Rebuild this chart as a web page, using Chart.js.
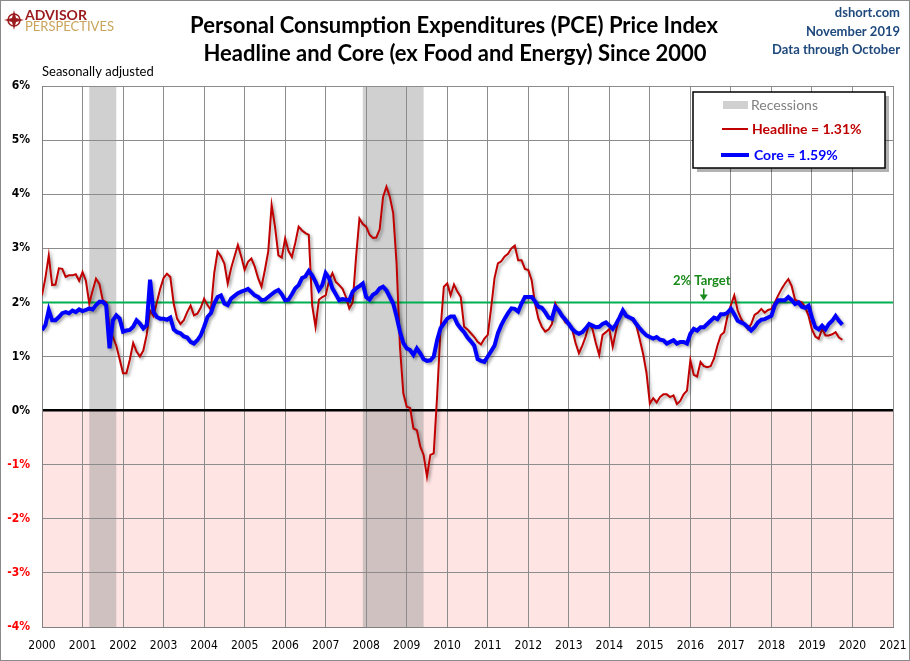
<!DOCTYPE html>
<html>
<head>
<meta charset="utf-8">
<script src="https://cdn.jsdelivr.net/npm/chart.js@4"></script>
<style>
  body { margin: 0; background: #fff; }
  canvas { display: block; }
</style>
</head>
<body>
<canvas id="pce" width="910" height="661"></canvas>
<script>
const startYear = 2000;
const xRange = [2000, 2021];
const yRange = [-4, 6];
const target = 2;
const recessionStarts = ['2001-03', '2007-12'];
const recessionEnds = ['2001-11', '2009-06'];

// PCE headline, year over year %, monthly from Jan 2000
const headline = [
  2.13, 2.45, 2.87, 2.32, 2.33, 2.63, 2.62, 2.47, 2.50, 2.50, 2.52, 2.40,
  2.56, 2.40, 1.98, 2.22, 2.44, 2.34, 2.04, 2.00, 1.55, 1.36, 1.20, 0.95,
  0.69, 0.69, 0.94, 1.25, 1.09, 1.00, 1.11, 1.40, 1.85, 1.75, 2.00, 2.25,
  2.45, 2.53, 2.47, 1.98, 1.70, 1.60, 1.67, 1.82, 1.94, 1.76, 1.79, 1.90,
  2.07, 1.95, 1.86, 2.54, 2.94, 2.85, 2.72, 2.35, 2.63, 2.85, 3.06, 2.85,
  2.60, 2.75, 2.81, 2.66, 2.45, 2.29, 2.60, 2.94, 3.80, 3.40, 2.87, 2.83,
  3.18, 2.95, 2.84, 3.10, 3.40, 3.33, 3.28, 3.25, 1.95, 1.55, 2.05, 2.10,
  2.13, 2.40, 2.54, 2.38, 2.32, 2.25, 2.10, 1.89, 2.00, 2.84, 3.55, 3.45,
  3.40, 3.25, 3.19, 3.20, 3.35, 3.95, 4.14, 3.95, 3.65, 2.72, 1.18, 0.32,
  0.07, 0.05, -0.33, -0.36, -0.66, -0.82, -1.22, -0.82, -0.79, 0.26, 1.49, 2.29,
  2.35, 2.13, 2.33, 2.20, 2.10, 1.55, 1.50, 1.43, 1.36, 1.27, 1.22, 1.33,
  1.40, 1.90, 2.45, 2.72, 2.76, 2.85, 2.90, 3.00, 3.05, 2.78, 2.78, 2.62,
  2.60, 2.41, 1.98, 1.70, 1.55, 1.46, 1.50, 1.60, 1.98, 1.85, 1.75, 1.63,
  1.60, 1.51, 1.25, 1.06, 1.20, 1.37, 1.60, 1.51, 1.25, 1.03, 1.40, 1.45,
  1.51, 1.18, 1.48, 1.74, 1.85, 1.75, 1.72, 1.66, 1.57, 1.32, 1.05, 0.70,
  0.13, 0.23, 0.15, 0.25, 0.30, 0.30, 0.25, 0.28, 0.12, 0.18, 0.30, 0.37,
  0.93, 0.66, 0.63, 0.90, 0.82, 0.80, 0.82, 0.96, 1.20, 1.39, 1.45, 1.75,
  1.95, 2.13, 1.85, 1.70, 1.60, 1.51, 1.60, 1.77, 1.81, 1.88, 1.81, 1.86,
  1.88, 2.00, 2.13, 2.25, 2.35, 2.43, 2.30, 2.05, 2.02, 2.00, 1.91, 1.75,
  1.50, 1.37, 1.33, 1.51, 1.39, 1.39, 1.41, 1.45, 1.35, 1.31
];

// PCE core (ex food and energy)
const core = [
  1.49, 1.58, 1.86, 1.67, 1.67, 1.73, 1.80, 1.82, 1.80, 1.85, 1.82, 1.87,
  1.84, 1.86, 1.89, 1.87, 1.95, 2.01, 2.01, 1.95, 1.15, 1.67, 1.76, 1.70,
  1.46, 1.48, 1.49, 1.55, 1.67, 1.61, 1.52, 1.58, 2.42, 1.82, 1.73, 1.70,
  1.70, 1.68, 1.72, 1.50, 1.45, 1.43, 1.37, 1.35, 1.27, 1.24, 1.30, 1.39,
  1.55, 1.73, 1.80, 1.98, 2.10, 2.13, 1.98, 1.95, 2.07, 2.12, 2.17, 2.20,
  2.22, 2.25, 2.19, 2.13, 2.10, 2.04, 2.05, 2.10, 2.15, 2.20, 2.23, 2.15,
  2.04, 2.05, 2.15, 2.26, 2.32, 2.45, 2.48, 2.58, 2.50, 2.38, 2.23, 2.32,
  2.54, 2.45, 2.26, 2.15, 2.04, 2.06, 2.05, 2.04, 2.20, 2.26, 2.30, 2.35,
  2.10, 2.05, 2.14, 2.18, 2.26, 2.29, 2.22, 2.10, 1.98, 1.74, 1.46, 1.25,
  1.15, 1.12, 1.03, 1.15, 1.06, 0.95, 0.92, 0.93, 1.00, 1.30, 1.52, 1.61,
  1.70, 1.74, 1.74, 1.60, 1.52, 1.45, 1.35, 1.28, 1.20, 0.95, 0.92, 0.90,
  1.00, 1.10, 1.20, 1.43, 1.58, 1.70, 1.80, 1.89, 1.88, 1.83, 1.98, 2.10,
  2.10, 2.10, 2.02, 1.92, 1.90, 1.82, 1.72, 1.70, 1.92, 1.85, 1.75, 1.68,
  1.60, 1.51, 1.45, 1.42, 1.45, 1.52, 1.60, 1.57, 1.54, 1.55, 1.60, 1.63,
  1.57, 1.51, 1.60, 1.72, 1.85, 1.75, 1.72, 1.69, 1.60, 1.52, 1.45, 1.39,
  1.36, 1.33, 1.36, 1.31, 1.30, 1.24, 1.27, 1.30, 1.24, 1.27, 1.27, 1.24,
  1.42, 1.51, 1.48, 1.54, 1.54, 1.60, 1.66, 1.72, 1.69, 1.78, 1.78, 1.81,
  1.88, 1.78, 1.66, 1.63, 1.60, 1.54, 1.48, 1.54, 1.63, 1.68, 1.69, 1.72,
  1.75, 1.95, 2.04, 2.04, 2.04, 2.10, 2.04, 1.97, 2.00, 1.92, 1.90, 1.94,
  1.72, 1.54, 1.50, 1.57, 1.50, 1.60, 1.66, 1.75, 1.66, 1.59
];

const FONT = "'Liberation Sans Narrow', 'DejaVu Sans Condensed', Lato, sans-serif";
const TITLE_FONT = "Lato, 'Open Sans', sans-serif";

function toYear(s) {
  const [yy, mm] = s.split('-').map(Number);
  return yy + (mm - 1) / 12;
}
function monthly(arr) {
  return arr.map((v, i) => ({ x: startYear + i / 12, y: v }));
}

const decor = {
  id: 'decor',
  beforeDraw(chart) {
    const { ctx, chartArea: a, scales: { x, y } } = chart;
    ctx.save();
    ctx.fillStyle = '#fff';
    ctx.fillRect(0, 0, chart.width, chart.height);
    const y0 = y.getPixelForValue(0);
    ctx.fillStyle = '#ffe4e4';
    ctx.fillRect(a.left, y0, a.right - a.left, a.bottom - y0);
    ctx.fillStyle = 'rgba(150,150,150,0.45)';
    recessionStarts.forEach((s, i) => {
      const x1 = x.getPixelForValue(toYear(s));
      const x2 = x.getPixelForValue(toYear(recessionEnds[i]));
      ctx.fillRect(x1, a.top, x2 - x1, a.bottom - a.top);
    });
    ctx.restore();
  },
  beforeDatasetsDraw(chart) {
    const { ctx, chartArea: a, scales: { y } } = chart;
    const yt = y.getPixelForValue(target);
    ctx.save();
    ctx.strokeStyle = '#00b050';
    ctx.lineWidth = 2;
    ctx.beginPath();
    ctx.moveTo(a.left, yt);
    ctx.lineTo(a.right, yt);
    ctx.stroke();
    ctx.restore();
  },
  beforeDatasetDraw(chart) {
    const ctx = chart.ctx;
    ctx.save();
    ctx.shadowColor = 'rgba(0,0,0,0.35)';
    ctx.shadowBlur = 3;
    ctx.shadowOffsetX = 2;
    ctx.shadowOffsetY = 2;
  },
  afterDatasetDraw(chart) {
    chart.ctx.restore();
  },
  afterDraw(chart) {
    const { ctx, scales: { x, y } } = chart;
    ctx.save();
    ctx.textBaseline = 'middle';

    // logo
    ctx.strokeStyle = '#9b1b1f';
    ctx.fillStyle = '#9b1b1f';
    ctx.lineWidth = 1.5;
    ctx.beginPath();
    ctx.arc(14, 20, 6, 0, Math.PI * 2);
    ctx.stroke();
    ctx.beginPath();
    ctx.moveTo(14, 10); ctx.lineTo(16, 18); ctx.lineTo(24, 20); ctx.lineTo(16, 22);
    ctx.lineTo(14, 30); ctx.lineTo(12, 22); ctx.lineTo(4, 20); ctx.lineTo(12, 18);
    ctx.closePath();
    ctx.fill();
    ctx.textAlign = 'left';
    ctx.font = 'bold 14px ' + TITLE_FONT;
    ctx.fillText('ADVISOR', 25, 15);
    ctx.fillStyle = '#c9a45a';
    ctx.font = '13px ' + TITLE_FONT;
    ctx.fillText('PERSPECTIVES', 25, 27);

    // titles
    ctx.fillStyle = '#000';
    ctx.textAlign = 'center';
    ctx.font = 'bold 22px ' + TITLE_FONT;
    ctx.fillText('Personal Consumption Expenditures (PCE) Price Index', 454, 26);
    ctx.fillText('Headline and Core (ex Food and Energy) Since 2000', 455, 54);

    ctx.textAlign = 'right';
    ctx.fillStyle = '#1f497d';
    ctx.font = 'bold 13px ' + TITLE_FONT;
    ctx.fillText('dshort.com', 900, 13);
    ctx.fillText('November 2019', 900, 32);
    ctx.fillText('Data through October', 900, 50);

    ctx.textAlign = 'left';
    ctx.fillStyle = '#000';
    ctx.font = '13px ' + TITLE_FONT;
    ctx.fillText('Seasonally adjusted', 42, 72);

    // 2% target note
    const yt = y.getPixelForValue(target);
    const xa = x.getPixelForValue(2016.33);
    ctx.fillStyle = '#1a8a1a';
    ctx.strokeStyle = '#1a8a1a';
    ctx.textAlign = 'center';
    ctx.font = 'bold 13px ' + TITLE_FONT;
    ctx.fillText('2% Target', xa - 2, yt - 22);
    ctx.lineWidth = 1.5;
    ctx.beginPath();
    ctx.moveTo(xa, yt - 14);
    ctx.lineTo(xa, yt - 6);
    ctx.stroke();
    ctx.beginPath();
    ctx.moveTo(xa - 4, yt - 8);
    ctx.lineTo(xa + 4, yt - 8);
    ctx.lineTo(xa, yt - 2);
    ctx.closePath();
    ctx.fill();

    // legend box
    ctx.fillStyle = 'rgba(0,0,0,0.3)';
    ctx.fillRect(697, 96, 192, 76);
    ctx.fillStyle = '#fff';
    ctx.fillRect(693, 92, 192, 76);
    ctx.strokeStyle = '#000';
    ctx.lineWidth = 1.5;
    ctx.strokeRect(693, 92, 192, 76);
    ctx.textAlign = 'left';
    ctx.fillStyle = '#d0d0d0';
    ctx.fillRect(723, 101, 25, 8);
    ctx.fillStyle = '#808080';
    ctx.font = '14px ' + TITLE_FONT;
    ctx.fillText('Recessions', 751, 105);
    ctx.strokeStyle = '#c00000';
    ctx.lineWidth = 2;
    ctx.beginPath(); ctx.moveTo(722, 129); ctx.lineTo(748, 129); ctx.stroke();
    ctx.fillStyle = '#c00000';
    ctx.font = 'bold 14px ' + TITLE_FONT;
    ctx.fillText('Headline = ' + headline[headline.length - 1].toFixed(2) + '%', 752, 129);
    ctx.strokeStyle = '#0000ff';
    ctx.lineWidth = 4;
    ctx.beginPath(); ctx.moveTo(721, 155); ctx.lineTo(749, 155); ctx.stroke();
    ctx.fillStyle = '#0000ff';
    ctx.fillText('Core = ' + core[core.length - 1].toFixed(2) + '%', 754, 155);

    // outer frame
    ctx.strokeStyle = '#8a8a8a';
    ctx.lineWidth = 1;
    ctx.strokeRect(0.5, 0.5, chart.width - 1, chart.height - 1);
    ctx.restore();
  }
};

new Chart(document.getElementById('pce'), {
  type: 'line',
  data: {
    datasets: [
      {
        label: 'Core',
        data: monthly(core),
        borderColor: '#0000ff',
        borderWidth: 4,
        pointRadius: 0,
        tension: 0
      },
      {
        label: 'Headline',
        data: monthly(headline),
        borderColor: '#c00000',
        borderWidth: 2,
        pointRadius: 0,
        tension: 0
      }
    ]
  },
  options: {
    responsive: false,
    animation: false,
    devicePixelRatio: 1,
    layout: { padding: { left: 0, right: 17, top: 86, bottom: 0 } },
    plugins: { legend: { display: false }, tooltip: { enabled: false } },
    scales: {
      x: {
        type: 'linear',
        min: xRange[0],
        max: xRange[1],
        afterFit: s => { s.height = 34; s.paddingLeft = 0; s.paddingRight = 0; },
        border: { color: '#808080', width: 1 },
        grid: { color: '#8c8c8c', lineWidth: 1, drawTicks: false },
        ticks: {
          stepSize: 1,
          autoSkip: false,
          maxRotation: 0,
          padding: 12,
          color: '#000',
          font: { family: FONT, size: 12 },
          callback: v => String(v)
        }
      },
      y: {
        min: yRange[0],
        max: yRange[1],
        afterFit: s => { s.width = 42; s.paddingTop = 0; s.paddingBottom = 0; },
        border: { color: '#808080', width: 1 },
        grid: {
          color: c => c.tick && c.tick.value === 0 ? '#000' : '#8c8c8c',
          lineWidth: c => c.tick && c.tick.value === 0 ? 2.5 : 1,
          drawTicks: false
        },
        ticks: {
          stepSize: 1,
          padding: 12,
          color: c => c.tick.value < 0 ? '#ff0000' : '#000',
          font: { family: FONT, size: 12, weight: 'bold' },
          callback: v => v + '%'
        }
      }
    }
  },
  plugins: [decor]
});
</script>
</body>
</html>
